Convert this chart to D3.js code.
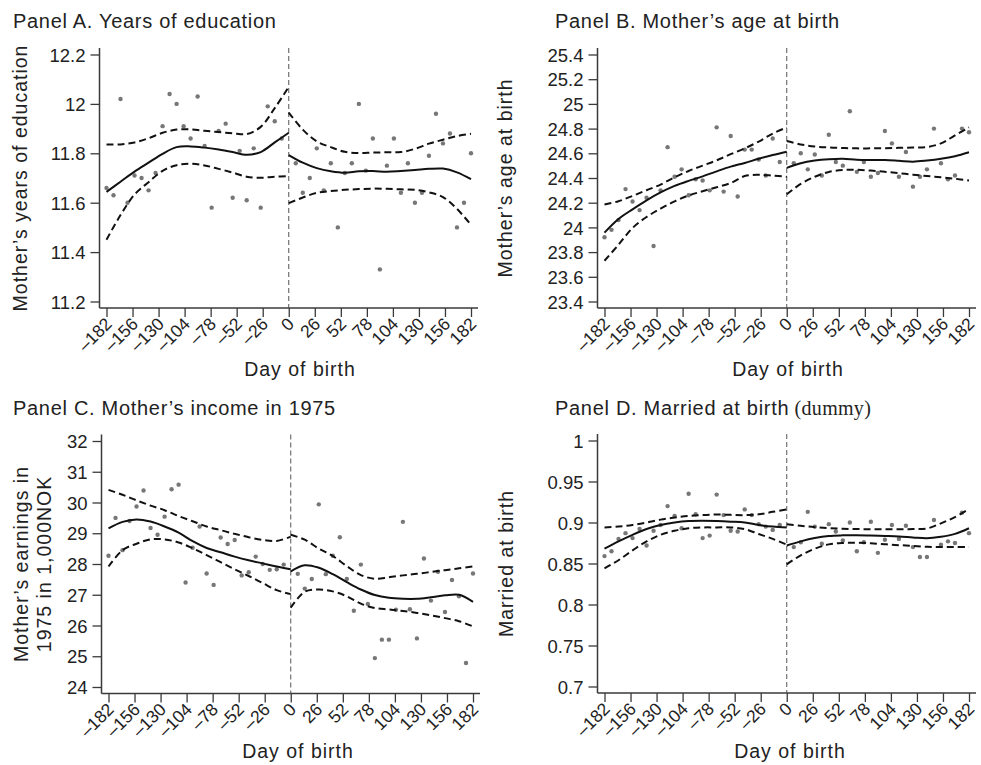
<!DOCTYPE html>
<html>
<head>
<meta charset="utf-8">
<script src="https://cdn.jsdelivr.net/npm/d3@7"></script>
<style>
  body { margin: 0; background: #fff; }
  svg { display: block; font-family: "Liberation Sans", Arial, Helvetica, sans-serif; }
</style>
</head>
<body>
<svg id="chart" width="981" height="765"></svg>
<script>
// ---------- shared x-axis data (day of birth relative to cutoff) ----------
const dayTicks = [-182, -156, -130, -104, -78, -52, -26, 0, 26, 52, 78, 104, 130, 156, 182];
const binDaysBefore = [-182, -175, -168, -161, -154, -147, -140, -133, -126, -119, -112, -105, -98,
                       -91, -84, -77, -70, -63, -56, -49, -42, -35, -28, -21, -14, -7];
const binDaysAfter = [7, 14, 21, 28, 35, 42, 49, 56, 63, 70, 77, 84, 91,
                      98, 105, 112, 119, 126, 133, 140, 147, 154, 161, 168, 175, 182];
const fitDaysBefore = [-182, -168, -154, -140, -126, -112, -98, -84, -70, -56, -42, -28, -14, 0];
const fitDaysAfter = [0, 14, 28, 42, 56, 70, 84, 98, 112, 126, 140, 154, 168, 182];

// ---------- Panel A: years of education ----------
const eduTicks = [11.2, 11.4, 11.6, 11.8, 12, 12.2];
const eduBefore = [11.66, 11.63, 12.02, 11.60, 11.71, 11.70, 11.65, 11.72, 11.91, 12.04, 12.00, 11.91, 11.86,
                   12.03, 11.83, 11.58, 11.89, 11.92, 11.62, 11.81, 11.61, 11.82, 11.58, 11.99, 11.93, 11.86];
const eduAfter = [11.76, 11.64, 11.70, 11.82, 11.65, 11.76, 11.50, 11.72, 11.76, 12.00, 11.73, 11.86, 11.33,
                  11.75, 11.86, 11.64, 11.76, 11.60, 11.64, 11.79, 11.96, 11.84, 11.88, 11.50, 11.60, 11.80];
const eduFitBefore = [11.644, 11.685, 11.726, 11.762, 11.798, 11.825, 11.828, 11.823, 11.815, 11.805, 11.794, 11.805, 11.844, 11.883];
const eduHiBefore = [11.836, 11.836, 11.844, 11.861, 11.883, 11.896, 11.897, 11.891, 11.886, 11.881, 11.878, 11.907, 11.983, 12.069];
const eduLoBefore = [11.45, 11.55, 11.633, 11.683, 11.729, 11.752, 11.758, 11.751, 11.737, 11.722, 11.705, 11.701, 11.705, 11.707];
const eduFitAfter = [11.793, 11.762, 11.740, 11.727, 11.721, 11.727, 11.728, 11.725, 11.728, 11.732, 11.737, 11.738, 11.723, 11.695];
const eduHiAfter = [11.965, 11.896, 11.848, 11.825, 11.806, 11.801, 11.803, 11.804, 11.805, 11.818, 11.839, 11.855, 11.870, 11.879];
const eduLoAfter = [11.598, 11.621, 11.640, 11.647, 11.652, 11.655, 11.657, 11.656, 11.654, 11.652, 11.642, 11.623, 11.575, 11.51];

// ---------- Panel B: mother's age at birth ----------
const ageTicks = [23.4, 23.6, 23.8, 24, 24.2, 24.4, 24.6, 24.8, 25, 25.2, 25.4];
const ageBefore = [23.92, 23.98, 24.06, 24.31, 24.21, 24.14, 24.24, 23.85, 24.30, 24.65, 24.41, 24.47, 24.26,
                   24.39, 24.38, 24.30, 24.81, 24.29, 24.74, 24.25, 24.63, 24.63, 24.55, 24.42, 24.72, 24.53];
const ageAfter = [24.52, 24.60, 24.47, 24.59, 24.42, 24.75, 24.53, 24.50, 24.94, 24.45, 24.53, 24.41, 24.44,
                  24.78, 24.68, 24.41, 24.61, 24.33, 24.41, 24.47, 24.80, 24.52, 24.39, 24.42, 24.80, 24.77];
const ageFitBefore = [23.958, 24.068, 24.146, 24.219, 24.283, 24.336, 24.377, 24.413, 24.454, 24.492, 24.522, 24.556, 24.586, 24.613];
const ageHiBefore = [24.185, 24.212, 24.255, 24.301, 24.347, 24.406, 24.457, 24.500, 24.543, 24.593, 24.640, 24.695, 24.76, 24.81];
const ageLoBefore = [23.73, 23.86, 23.995, 24.084, 24.152, 24.211, 24.258, 24.293, 24.325, 24.359, 24.416, 24.426, 24.42, 24.41];
const ageFitAfter = [24.482, 24.52, 24.541, 24.552, 24.556, 24.547, 24.545, 24.545, 24.539, 24.532, 24.541, 24.555, 24.576, 24.608];
const ageHiAfter = [24.70, 24.672, 24.655, 24.647, 24.643, 24.64, 24.64, 24.641, 24.644, 24.647, 24.651, 24.68, 24.745, 24.81];
const ageLoAfter = [24.268, 24.352, 24.41, 24.449, 24.465, 24.466, 24.46, 24.45, 24.439, 24.427, 24.416, 24.406, 24.394, 24.38];

// ---------- Panel C: mother's earnings in 1975 (1,000 NOK) ----------
const incTicks = [24, 25, 26, 27, 28, 29, 30, 31, 32];
const incBefore = [28.27, 29.50, 28.45, 29.40, 29.87, 30.39, 29.17, 28.95, 29.54, 30.43, 30.58, 27.40, 28.53,
                   29.22, 27.69, 27.32, 28.86, 28.65, 28.78, 27.63, 27.73, 28.24, 28.00, 27.81, 27.83, 27.98];
const incAfter = [27.68, 27.20, 27.51, 29.94, 27.67, 28.27, 28.87, 27.51, 26.48, 27.98, 26.70, 24.94, 25.54,
                  25.54, 26.51, 29.37, 26.53, 25.58, 28.18, 26.81, 27.75, 26.44, 27.48, 26.95, 24.78, 27.69];
const incFitBefore = [29.16, 29.37, 29.45, 29.38, 29.22, 29.02, 28.74, 28.52, 28.38, 28.24, 28.12, 28.02, 27.92, 27.83];
const incHiBefore = [30.41, 30.25, 30.07, 29.90, 29.75, 29.56, 29.39, 29.22, 29.10, 28.98, 28.87, 28.78, 28.75, 28.89];
const incLoBefore = [27.92, 28.45, 28.66, 28.80, 28.80, 28.70, 28.51, 28.29, 28.06, 27.83, 27.61, 27.38, 27.15, 27.02];
const incFitAfter = [27.76, 27.96, 27.88, 27.67, 27.41, 27.17, 26.99, 26.90, 26.87, 26.87, 26.92, 26.98, 27.00, 26.77];
const incHiAfter = [28.95, 28.79, 28.50, 28.26, 27.93, 27.64, 27.52, 27.57, 27.63, 27.68, 27.74, 27.80, 27.86, 27.92];
const incLoAfter = [26.58, 27.10, 27.17, 27.11, 26.95, 26.71, 26.57, 26.52, 26.47, 26.41, 26.33, 26.24, 26.14, 25.97];

// ---------- Panel D: married at birth ----------
const marTicks = [0.7, 0.75, 0.8, 0.85, 0.9, 0.95, 1];
const marBefore = [0.859, 0.865, 0.880, 0.887, 0.881, 0.892, 0.872, 0.890, 0.897, 0.920, 0.908, 0.893, 0.935,
                   0.910, 0.881, 0.884, 0.934, 0.909, 0.890, 0.889, 0.916, 0.909, 0.898, 0.895, 0.891, 0.897];
const marAfter = [0.870, 0.876, 0.913, 0.895, 0.874, 0.898, 0.889, 0.878, 0.900, 0.865, 0.876, 0.901, 0.863,
                  0.879, 0.897, 0.880, 0.896, 0.870, 0.858, 0.858, 0.903, 0.873, 0.877, 0.875, 0.912, 0.887];
const marFitBefore = [0.868, 0.877, 0.885, 0.892, 0.897, 0.900, 0.9017, 0.902, 0.9017, 0.901, 0.900, 0.897, 0.895, 0.894];
const marHiBefore = [0.894, 0.895, 0.897, 0.900, 0.9035, 0.906, 0.908, 0.909, 0.9097, 0.9093, 0.909, 0.910, 0.913, 0.916];
const marLoBefore = [0.844, 0.854, 0.866, 0.877, 0.885, 0.890, 0.893, 0.894, 0.894, 0.894, 0.892, 0.886, 0.880, 0.873];
const marFitAfter = [0.872, 0.877, 0.881, 0.8835, 0.8843, 0.8845, 0.8841, 0.8836, 0.883, 0.8818, 0.8808, 0.8826, 0.8861, 0.893];
const marHiAfter = [0.898, 0.896, 0.8943, 0.8932, 0.8924, 0.892, 0.8918, 0.8918, 0.8918, 0.892, 0.8927, 0.899, 0.9066, 0.9165];
const marLoAfter = [0.849, 0.860, 0.868, 0.8733, 0.875, 0.8752, 0.8746, 0.8735, 0.8724, 0.8714, 0.8703, 0.870, 0.870, 0.870];

// ---------- drawing ----------
const svg = d3.select("#chart");
const FONT = "'Liberation Sans', Arial, Helvetica, sans-serif";
const INK = "#222";
const AXIS = "#3a3a3a";
const PAD = 6.5;   // gap between outermost tick and end of axis line

function fmtDay(d) { return d < 0 ? "\u2013" + Math.abs(d) : String(d); }

function drawPanel(p) {
  const g = svg.append("g");
  const x = d3.scaleLinear().domain([dayTicks[0], dayTicks[dayTicks.length - 1]])
              .range([p.left + 7, p.right - 7]);
  const y = d3.scaleLinear().domain([p.yTicks[0], p.yTicks[p.yTicks.length - 1]])
              .range([p.bottom - PAD, p.top + PAD]);

  // y axis
  const ya = g.append("g").attr("transform", `translate(${p.left},0)`)
    .call(d3.axisLeft(y).tickValues(p.yTicks).tickSize(9).tickPadding(5).tickFormat(d => String(d)));
  ya.attr("font-family", FONT).attr("font-size", 18.5);
  ya.select(".domain").remove();
  ya.selectAll(".tick line").attr("stroke", AXIS).attr("stroke-width", 1.3);
  ya.selectAll(".tick text").attr("fill", INK).attr("dy", "0.36em");
  g.append("line").attr("x1", p.left).attr("x2", p.left).attr("y1", p.top).attr("y2", p.bottom)
    .attr("stroke", AXIS).attr("stroke-width", 1.5);

  // x axis
  const xa = g.append("g").attr("transform", `translate(0,${p.bottom})`)
    .call(d3.axisBottom(x).tickValues(dayTicks).tickSize(9).tickFormat(fmtDay));
  xa.attr("font-family", FONT).attr("font-size", 17.5);
  xa.select(".domain").remove();
  xa.selectAll(".tick line").attr("stroke", AXIS).attr("stroke-width", 1.3);
  xa.selectAll(".tick text")
    .attr("fill", INK)
    .attr("x", 0).attr("y", 0).attr("dy", 0)
    .attr("text-anchor", "end")
    .attr("transform", "translate(6,17) rotate(-45)");
  g.append("line").attr("x1", p.left).attr("x2", p.right).attr("y1", p.bottom).attr("y2", p.bottom)
    .attr("stroke", AXIS).attr("stroke-width", 1.5);

  // cutoff marker
  g.append("line").attr("x1", x(0)).attr("x2", x(0)).attr("y1", p.top).attr("y2", p.bottom)
    .attr("stroke", "#555").attr("stroke-width", 1).attr("stroke-dasharray", "5,3");

  // binned means
  const pts = binDaysBefore.map((d, i) => [d, p.before[i]])
    .concat(binDaysAfter.map((d, i) => [d, p.after[i]]));
  g.append("g").selectAll("circle").data(pts).join("circle")
    .attr("cx", d => x(d[0])).attr("cy", d => y(d[1])).attr("r", 2.2).attr("fill", "#777");

  // local fits with confidence bands, one per side of the cutoff
  const line = d3.line().x(d => x(d[0])).y(d => y(d[1])).curve(d3.curveCatmullRom.alpha(0.5));
  const sides = [
    [fitDaysBefore, p.fitB, p.hiB, p.loB],
    [fitDaysAfter, p.fitA, p.hiA, p.loA]
  ];
  sides.forEach(([days, fit, hi, lo]) => {
    [hi, lo].forEach(band => {
      g.append("path").datum(days.map((d, i) => [d, band[i]])).attr("d", line)
        .attr("fill", "none").attr("stroke", "#111").attr("stroke-width", 2)
        .attr("stroke-dasharray", "7,4");
    });
    g.append("path").datum(days.map((d, i) => [d, fit[i]])).attr("d", line)
      .attr("fill", "none").attr("stroke", "#111").attr("stroke-width", 2);
  });

  // panel title
  const t = svg.append("text").attr("x", p.titleX).attr("y", p.titleY)
    .attr("fill", INK).style("font-size", "20px").style("letter-spacing", "0.7px");
  t.append("tspan").text(p.title);
  if (p.titleNote) {
    t.append("tspan").text(" " + p.titleNote)
      .style("font-family", "'Liberation Serif', 'Times New Roman', serif").style("letter-spacing", "0.3px");
  }

  // y axis title (one or two lines)
  const cy = (p.top + p.bottom) / 2;
  p.yTitle.forEach((s, i) => {
    svg.append("text")
      .attr("transform", `translate(${p.yTitleX[i]},${cy}) rotate(-90)`)
      .attr("text-anchor", "middle").attr("fill", INK)
      .style("font-size", "19.5px").style("letter-spacing", "1px")
      .text(s);
  });

  // x axis title
  svg.append("text").attr("x", p.xTitleX).attr("y", p.xTitleY).attr("text-anchor", "middle")
    .attr("fill", INK).style("font-size", "19.5px").style("letter-spacing", "1px")
    .text("Day of birth");
}

drawPanel({
  left: 99.5, right: 478, top: 48, bottom: 308, yTicks: eduTicks,
  before: eduBefore, after: eduAfter,
  fitB: eduFitBefore, hiB: eduHiBefore, loB: eduLoBefore,
  fitA: eduFitAfter, hiA: eduHiAfter, loA: eduLoAfter,
  title: "Panel A. Years of education", titleX: 13, titleY: 28,
  yTitle: ["Mother\u2019s years of education"], yTitleX: [27],
  xTitleX: 300, xTitleY: 376
});
drawPanel({
  left: 597.5, right: 976, top: 48, bottom: 308, yTicks: ageTicks,
  before: ageBefore, after: ageAfter,
  fitB: ageFitBefore, hiB: ageHiBefore, loB: ageLoBefore,
  fitA: ageFitAfter, hiA: ageHiAfter, loA: ageLoAfter,
  title: "Panel B. Mother\u2019s age at birth", titleX: 555, titleY: 28,
  yTitle: ["Mother\u2019s age at birth"], yTitleX: [512],
  xTitleX: 788, xTitleY: 376
});
drawPanel({
  left: 101.5, right: 480, top: 434.5, bottom: 693.5, yTicks: incTicks,
  before: incBefore, after: incAfter,
  fitB: incFitBefore, hiB: incHiBefore, loB: incLoBefore,
  fitA: incFitAfter, hiA: incHiAfter, loA: incLoAfter,
  title: "Panel C. Mother\u2019s income in 1975", titleX: 13, titleY: 415,
  yTitle: ["Mother\u2019s earnings in", "1975 in 1,000NOK"], yTitleX: [28, 51],
  xTitleX: 298, xTitleY: 758
});
drawPanel({
  left: 597.5, right: 976, top: 434, bottom: 693, yTicks: marTicks,
  before: marBefore, after: marAfter,
  fitB: marFitBefore, hiB: marHiBefore, loB: marLoBefore,
  fitA: marFitAfter, hiA: marHiAfter, loA: marLoAfter,
  title: "Panel D. Married at birth", titleNote: "(dummy)", titleX: 555, titleY: 415,
  yTitle: ["Married at birth"], yTitleX: [513],
  xTitleX: 790, xTitleY: 758
});
</script>
</body>
</html>
